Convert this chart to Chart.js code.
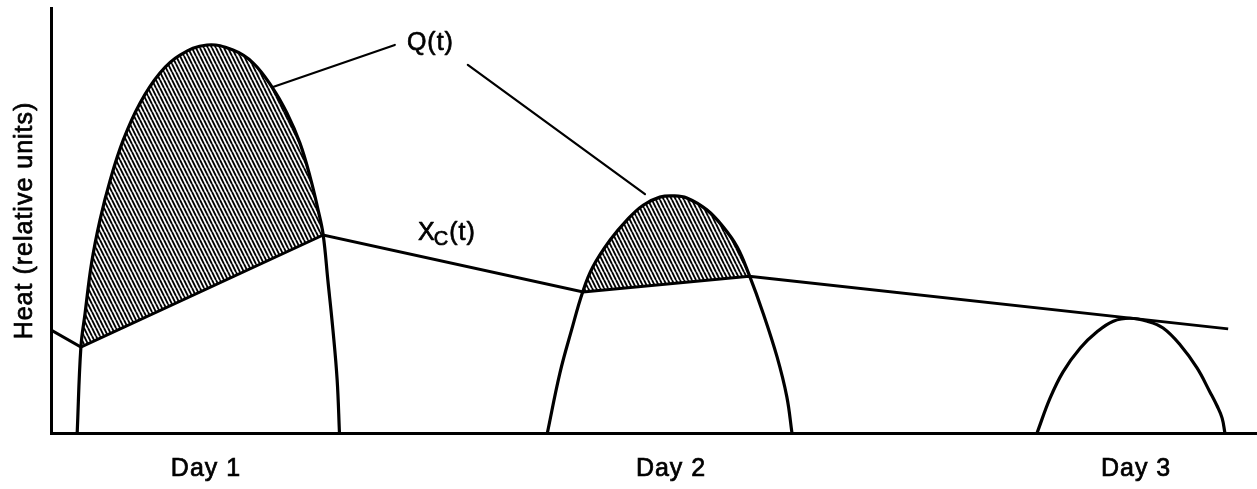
<!DOCTYPE html>
<html><head><meta charset="utf-8">
<script src="https://cdn.jsdelivr.net/npm/chart.js@4.4.1/dist/chart.umd.min.js"></script>
<style>html,body{margin:0;padding:0;background:#fff;overflow:hidden}canvas{display:block}</style>
</head><body>
<canvas id="c" width="1257" height="489"></canvas>
<script>
// ---- data (x in days, y in relative heat units) ----
const dayTicks = [1, 2, 3];
const dayLabels = ['Day 1', 'Day 2', 'Day 3'];

// Q(t) – day 1
const q1X = [0.723, 0.731, 0.740, 0.754, 0.772, 0.794, 0.822, 0.858, 0.901, 0.944, 1.002, 1.058, 1.101, 1.142, 1.174, 1.202, 1.224, 1.241, 1.252, 1.262, 1.273, 1.282, 1.287];
const q1Y = [0, 20.2, 28.2, 40.0, 50.1, 59.5, 68.9, 77.6, 84.7, 88.9, 91.3, 90.1, 87.1, 81.4, 75.3, 68.2, 60.2, 52.5, 46.6, 36.0, 24.2, 12.5, 0];
// Q(t) – day 2
const q2X = [1.734, 1.761, 1.786, 1.810, 1.832, 1.869, 1.905, 1.940, 1.976, 2.004, 2.034, 2.077, 2.112, 2.142, 2.168, 2.198, 2.228, 2.249, 2.260];
const q2Y = [0, 14.1, 24.2, 33.2, 39.1, 45.4, 50.1, 53.6, 55.5, 55.8, 55.3, 52.5, 48.5, 43.8, 37.2, 28.2, 17.9, 8.5, 0];
// Q(t) – day 3
const q3X = [2.787, 2.815, 2.843, 2.880, 2.916, 2.951, 2.987, 3.024, 3.058, 3.095, 3.131, 3.159, 3.174, 3.185, 3.191];
const q3Y = [0, 8.2, 14.4, 20.0, 23.8, 26.3, 27.0, 26.3, 24.7, 20.7, 15.3, 9.6, 6.4, 3.5, 0];
// Xc(t)
const xcX = [0.667, 0.731, 1.252, 1.811, 2.168, 3.198];
const xcY = [24.2, 20.2, 46.6, 33.2, 36.9, 24.5];

// ---- annotation placement (data coords) ----
const leaderLines = [[1.144, 81.4, 1.406, 91.3], [1.563, 86.6, 1.944, 56.2]];
const qLabelPos = {x: 1.432, y: 90.1};
const xcLabelPos = {x: 1.456, y: 45.4};
const yTitle = 'Heat (relative units)';

const FONT = 'Arial, "Liberation Sans", Helvetica, sans-serif';
const canvas = document.getElementById('c');
const mainCtx = canvas.getContext('2d');

function makeHatch() {
  const t = document.createElement('canvas');
  t.width = 4; t.height = 8;
  const g = t.getContext('2d');
  g.strokeStyle = '#000';
  g.lineWidth = 1.9;
  g.beginPath();
  for (const k of [-4, 0, 4]) { g.moveTo(k, 0); g.lineTo(k + 4, 8); }
  g.stroke();
  return mainCtx.createPattern(t, 'repeat');
}
const hatch = makeHatch();

const toPts = (xs, ys) => xs.map((x, i) => ({x, y: ys[i]}));
const curve = (xs, ys, fill) => ({
  data: toPts(xs, ys), borderColor: '#000', borderWidth: 3.2, pointRadius: 0,
  tension: 0.4, fill: fill, backgroundColor: 'rgba(0,0,0,0)'
});
const hatchFill = {target: 3, above: hatch, below: 'rgba(0,0,0,0)'};

function heavyText(ctx, s, x, y) {
  ctx.strokeText(s, x, y);
  ctx.fillText(s, x, y);
}

const annotationPlugin = {
  id: 'annot',
  beforeDraw(chart) { chart.ctx.letterSpacing = '1px'; },
  afterDraw(chart) {
    const {ctx, chartArea, scales: {x, y}} = chart;
    ctx.save();
    ctx.strokeStyle = '#000';
    ctx.lineWidth = 2.2;
    ctx.lineCap = 'round';
    for (const [x1, y1, x2, y2] of leaderLines) {
      ctx.beginPath();
      ctx.moveTo(x.getPixelForValue(x1), y.getPixelForValue(y1));
      ctx.lineTo(x.getPixelForValue(x2), y.getPixelForValue(y2));
      ctx.stroke();
    }
    ctx.fillStyle = '#000';
    ctx.lineWidth = 0.7;
    ctx.lineJoin = 'round';
    ctx.textAlign = 'left';
    ctx.textBaseline = 'alphabetic';
    ctx.font = '25px ' + FONT;
    heavyText(ctx, 'Q(t)', x.getPixelForValue(qLabelPos.x), y.getPixelForValue(qLabelPos.y));
    let px = x.getPixelForValue(xcLabelPos.x);
    const py = y.getPixelForValue(xcLabelPos.y);
    heavyText(ctx, 'X', px, py);
    px += ctx.measureText('X').width - 2;
    ctx.font = '20px ' + FONT;
    heavyText(ctx, 'C', px, py + 5);
    px += ctx.measureText('C').width;
    ctx.font = '25px ' + FONT;
    heavyText(ctx, '(t)', px, py);
    // y axis title
    ctx.translate(25, (chartArea.top + chartArea.bottom) / 2);
    ctx.rotate(-Math.PI / 2);
    ctx.textAlign = 'center';
    ctx.textBaseline = 'middle';
    heavyText(ctx, yTitle, 0, 0);
    ctx.restore();
  }
};

new Chart(canvas, {
  type: 'line',
  data: {
    datasets: [
      curve(q1X, q1Y, hatchFill),
      curve(q2X, q2Y, hatchFill),
      curve(q3X, q3Y, false),
      {data: toPts(xcX, xcY), borderColor: '#000', borderWidth: 3, pointRadius: 0, tension: 0, fill: false}
    ]
  },
  options: {
    responsive: false,
    animation: false,
    devicePixelRatio: 1,
    layout: {padding: {top: 8, right: 0, bottom: 0, left: 0}},
    plugins: {legend: {display: false}, tooltip: {enabled: false}},
    scales: {
      x: {
        type: 'linear', min: 0.6667, max: 3.26,
        afterBuildTicks: (s) => { s.ticks = dayTicks.map(v => ({value: v})); },
        afterFit: (s) => { s.height = 56; },
        grid: {display: false, drawTicks: false},
        border: {display: true, color: '#000', width: 3},
        ticks: {
          color: '#000', padding: 21, autoSkip: false, maxRotation: 0,
          textStrokeColor: '#000', textStrokeWidth: 0.7,
          font: {family: FONT, size: 25},
          callback: (v) => dayLabels[dayTicks.indexOf(v)]
        }
      },
      y: {
        min: 0, max: 100,
        afterFit: (s) => { s.width = 51; },
        grid: {display: false, drawTicks: false},
        border: {display: true, color: '#000', width: 3},
        ticks: {display: false},
        title: {display: false}
      }
    }
  },
  plugins: [annotationPlugin]
});
</script>
</body></html>
